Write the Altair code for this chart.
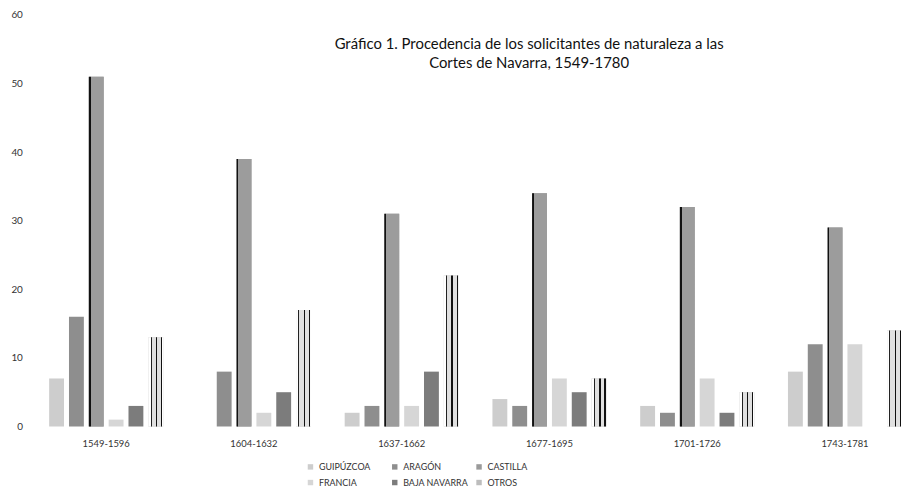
import altair as alt
import pandas as pd

periods = ["1549-1596", "1604-1632", "1637-1662", "1677-1695", "1701-1726", "1743-1781"]
series = ["GUIPÚZCOA", "ARAGÓN", "CASTILLA", "FRANCIA", "BAJA NAVARRA", "OTROS"]

guipuzcoa = [7, 0, 2, 4, 3, 8]
aragon = [16, 8, 3, 3, 2, 12]
castilla = [51, 39, 31, 34, 32, 29]
francia = [1, 2, 3, 7, 7, 12]
baja_navarra = [3, 5, 8, 5, 2, 0]
otros = [13, 17, 22, 7, 5, 14]

y_ticks = [0, 10, 20, 30, 40, 50, 60]
title_lines = ["Gráfico 1. Procedencia de los solicitantes de naturaleza a las",
               "Cortes de Navarra, 1549-1780"]

greys = ["#cdcdcd", "#8e8e8e", "#9a9a9a", "#d6d6d6", "#7c7c7c", "#bdbdbd"]

rows = []
for s, vals in zip(series, [guipuzcoa, aragon, castilla, francia, baja_navarra, otros]):
    for p, v in zip(periods, vals):
        rows.append({"periodo": p, "origen": s, "valor": v})
df = pd.DataFrame(rows)

PW, PH = 876, 415
FONT = "Lato"

x_enc = alt.X("periodo:N", sort=periods,
              scale=alt.Scale(domain=periods, range=[0, 894], paddingInner=0, paddingOuter=0),
              axis=alt.Axis(title=None, labelAngle=0, domain=False, ticks=False, labelPadding=12,
                            labelFont=FONT, labelFontSize=9.5, labelColor="#333333"))
xo_enc = alt.XOffset("origen:N", sort=series,
                     scale=alt.Scale(domain=series, paddingInner=0.25, paddingOuter=0.85))
y_enc = alt.Y("valor:Q", scale=alt.Scale(domain=[0, 60]),
              axis=alt.Axis(title=None, values=y_ticks, grid=False, domain=False, ticks=False,
                            labelPadding=10, labelFont=FONT, labelFontSize=10, labelColor="#333333"))

base = alt.Chart(df).mark_bar().encode(
    x=x_enc, xOffset=xo_enc, y=y_enc,
    color=alt.Color("origen:N", sort=series, scale=alt.Scale(domain=series, range=greys),
                    legend=alt.Legend(title=None, orient="none", legendX=276, legendY=451,
                                      direction="horizontal", columns=3, gridAlign="all",
                                      symbolType="square", symbolSize=30,
                                      labelFont=FONT, labelFontSize=9, labelColor="#333333",
                                      columnPadding=6, rowPadding=6, padding=0, labelLimit=200,
                                      symbolStrokeWidth=0))
)

def grad(stops):
    return alt.LinearGradient(gradient="linear", x1=0, y1=0, x2=1, y2=0,
                              stops=[alt.GradientStop(color=c, offset=o) for o, c in stops])

cast_fill = grad([(0, "#111111"), (0.12, "#111111"), (0.12, "#9c9c9c"), (1, "#9c9c9c")])
otros_fill = grad([(0, "#ffffff"), (0.15, "#ffffff"), (0.15, "#222222"), (0.22, "#222222"),
                   (0.22, "#e0e0e0"), (0.5, "#e0e0e0"), (0.5, "#111111"), (0.6, "#111111"),
                   (0.6, "#e0e0e0"), (0.86, "#e0e0e0"), (0.86, "#111111"), (0.95, "#111111"),
                   (0.95, "#ffffff"), (1, "#ffffff")])

cast_layer = alt.Chart(df).transform_filter(alt.datum.origen == "CASTILLA").mark_bar(
    fill=cast_fill).encode(x=x_enc, xOffset=xo_enc, y=y_enc)
otros_layer = alt.Chart(df).transform_filter(alt.datum.origen == "OTROS").mark_bar(
    fill=otros_fill).encode(x=x_enc, xOffset=xo_enc, y=y_enc)

title_layer = alt.Chart(pd.DataFrame({"t": [0]})).mark_text(
    text=title_lines, font=FONT, fontSize=15, lineHeight=19, align="center",
    baseline="top", color="#111111"
).encode(x=alt.value(501), y=alt.value(22))

chart = alt.layer(base, cast_layer, otros_layer, title_layer).properties(
    width=PW, height=PH,
    autosize=alt.AutoSizeParams(type="none"),
    padding={"left": 24.5, "top": 5, "right": 0, "bottom": 60},
    background="white",
).configure_view(stroke=None)

chart.save("out.html", embed_options={"renderer": "svg", "actions": False})
